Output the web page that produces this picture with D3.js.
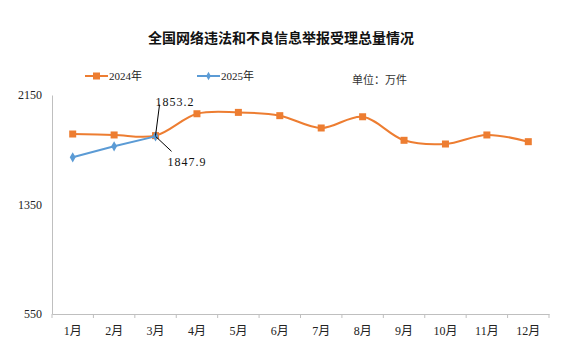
<!DOCTYPE html>
<html><head><meta charset="utf-8">
<script src="https://cdn.jsdelivr.net/npm/d3@7"></script>
<style>body{margin:0;background:#fff}svg{display:block}</style>
</head><body>
<script>
const months = ["1月","2月","3月","4月","5月","6月","7月","8月","9月","10月","11月","12月"];
const series2024 = [1865, 1858, 1853.2, 2013, 2023, 1999, 1909, 1991, 1819, 1792, 1858, 1809];
const series2025 = [1695, 1775, 1847.9];
const yTicks = [550, 1350, 2150];
const seriesNames = ["2024年", "2025年"];
const title = "全国网络违法和不良信息举报受理总量情况";
const unit = "单位：万件";

(function () {
const W = 572, H = 358;
const svg = d3.select("body").append("svg").attr("width", W).attr("height", H);
const serif = "'Liberation Serif','Times New Roman','Noto Sans CJK SC',serif";
const pL = 52, pR = 549, pT = 95, pB = 314;

const x = d3.scaleBand().domain(months).range([pL, pR]);
const y = d3.scaleLinear().domain([550, 2150]).range([pB, pT]);
const cx = m => x(m) + x.bandwidth() / 2;

svg.append("text").attr("x", 281).attr("y", 43).attr("text-anchor", "middle")
  .attr("font-family", "'Noto Sans CJK SC',sans-serif").attr("font-weight", "bold")
  .attr("font-size", 14).attr("fill", "#111").text(title);

const xAxis = svg.append("g").attr("transform", `translate(0,${pB})`)
  .call(d3.axisBottom(x).tickSize(0).tickPadding(12));
xAxis.select(".domain").attr("stroke", "#bfbfbf");
xAxis.selectAll("text").attr("font-family", serif).attr("font-size", 12).attr("fill", "#222");
xAxis.selectAll(".bt").data(d3.range(months.length + 1)).enter().append("line")
  .attr("x1", i => pL + i * x.bandwidth()).attr("x2", i => pL + i * x.bandwidth())
  .attr("y1", 0).attr("y2", 4).attr("stroke", "#bfbfbf");

const yAxis = svg.append("g").attr("transform", `translate(${pL},0)`)
  .call(d3.axisLeft(y).tickValues(yTicks).tickFormat(d3.format("d")).tickSize(0).tickPadding(10));
yAxis.select(".domain").attr("stroke", "#bfbfbf");
yAxis.selectAll("text").attr("font-family", serif).attr("font-size", 12).attr("fill", "#222");

const orange = "#ED7D31", blue = "#5B9BD5";
const d24 = series2024.map((v, i) => [cx(months[i]), y(v)]);
const d25 = series2025.map((v, i) => [cx(months[i]), y(v)]);

svg.append("path").attr("d", d3.line().curve(d3.curveCatmullRom.alpha(0.5))(d24))
  .attr("fill", "none").attr("stroke", orange).attr("stroke-width", 2);
svg.selectAll(".sq").data(d24).enter().append("rect")
  .attr("x", d => d[0] - 3.5).attr("y", d => d[1] - 3.5).attr("width", 7).attr("height", 7)
  .attr("fill", orange);

svg.append("path").attr("d", d3.line()(d25))
  .attr("fill", "none").attr("stroke", blue).attr("stroke-width", 2);
const diamond = d3.symbol().type(d3.symbolDiamond).size(30);
svg.selectAll(".dm").data(d25).enter().append("path")
  .attr("transform", d => `translate(${d[0]},${d[1]})`).attr("d", diamond).attr("fill", blue);

const p3a = d24[2], p3b = d25[2];
svg.append("line").attr("x1", p3a[0]).attr("y1", p3a[1]).attr("x2", p3a[0] + 4).attr("y2", p3a[1] - 31)
  .attr("stroke", "#000").attr("stroke-width", 1);
svg.append("text").attr("x", p3a[0]).attr("y", p3a[1] - 30).attr("font-family", serif)
  .attr("font-size", 12).attr("letter-spacing", 1).attr("fill", "#111").text(series2024[2].toFixed(1));
svg.append("line").attr("x1", p3b[0]).attr("y1", p3b[1]).attr("x2", p3b[0] + 16).attr("y2", p3b[1] + 15)
  .attr("stroke", "#000").attr("stroke-width", 1);
svg.append("text").attr("x", p3b[0] + 12).attr("y", p3b[1] + 30).attr("font-family", serif)
  .attr("font-size", 12).attr("letter-spacing", 1).attr("fill", "#111").text(series2025[2].toFixed(1));

const lg = [{x: 85, c: orange, t: seriesNames[0], m: "sq"}, {x: 197, c: blue, t: seriesNames[1], m: "dm"}];
lg.forEach(l => {
  svg.append("line").attr("x1", l.x).attr("x2", l.x + 23).attr("y1", 76).attr("y2", 76)
    .attr("stroke", l.c).attr("stroke-width", 2);
  if (l.m === "sq") svg.append("rect").attr("x", l.x + 8).attr("y", 72.5).attr("width", 7).attr("height", 7).attr("fill", l.c);
  else svg.append("path").attr("transform", `translate(${l.x + 11.5},76)`).attr("d", d3.symbol().type(d3.symbolDiamond).size(20)).attr("fill", l.c);
  svg.append("text").attr("x", l.x + 24).attr("y", 80).attr("font-family", serif)
    .attr("font-size", 11).attr("fill", "#222").text(l.t);
});
svg.append("text").attr("x", 352).attr("y", 84).attr("font-family", "'Noto Sans CJK SC',sans-serif")
  .attr("font-size", 11).attr("fill", "#333").text(unit);
})();
</script>
</body></html>
